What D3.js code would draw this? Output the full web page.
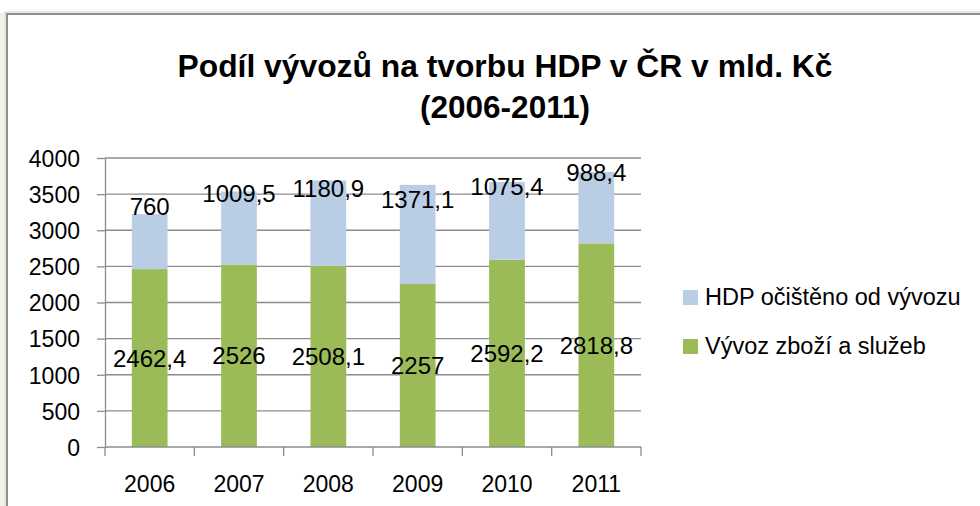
<!DOCTYPE html>
<html>
<head>
    <meta charset="utf-8">
    <title>stacked bar chart</title>
    <script type="text/javascript" src="https://cdn.jsdelivr.net/npm/d3@7/dist/d3.min.js"></script>
    <style type="text/css">
        body { margin: 0; background: #fff; }
        svg { display: block; font-family: "Liberation Sans", Arial, sans-serif; }
        .grid line { stroke: #8c8c8c; stroke-width: 1.3px; }
        .axis path, .axis line { stroke: #8c8c8c; stroke-width: 1.3px; }
        .axis text { font-family: "Liberation Sans", Arial, sans-serif; font-size: 23px; fill: #000; }
    </style>
</head>
<body>
    <svg id="chart" width="980" height="506"></svg>
</body>

<script type="text/javascript">

    let years = ["2006", "2007", "2008", "2009", "2010", "2011"];
    let vyvoz = [2462.4, 2526, 2508.1, 2257, 2592.2, 2818.8];
    let hdpBezVyvozu = [760, 1009.5, 1180.9, 1371.1, 1075.4, 988.4];
    let yTicks = [0, 500, 1000, 1500, 2000, 2500, 3000, 3500, 4000];
    let seriesNames = ["HDP očištěno od vývozu", "Vývoz zboží a služeb"];
    let colors = ["#b9cde5", "#9bbb59"];

    let svg = d3.select("#chart");

    // frame of the chart area
    svg.append("rect").attr("x", 0).attr("y", 13).attr("width", 4).attr("height", 506)
        .attr("fill", "#f2f2e8");
    svg.append("rect").attr("x", 7).attr("y", 14).attr("width", 990).attr("height", 520)
        .attr("fill", "#fff").attr("stroke", "#8e8e8e").attr("stroke-width", 2);
    svg.append("rect").attr("x", 5).attr("y", 12).attr("width", 990).attr("height", 520)
        .attr("fill", "none").attr("stroke", "#cfcfcf").attr("stroke-width", 1);

    // title
    svg.append("text").attr("x", 505).attr("y", 77)
        .attr("text-anchor", "middle").attr("font-weight", "bold").attr("font-size", 31)
        .attr("textLength", 655).attr("lengthAdjust", "spacingAndGlyphs")
        .text("Podíl vývozů na tvorbu HDP v ČR v mld. Kč");
    svg.append("text").attr("x", 505).attr("y", 118)
        .attr("text-anchor", "middle").attr("font-weight", "bold").attr("font-size", 31)
        .attr("textLength", 170).attr("lengthAdjust", "spacingAndGlyphs")
        .text("(2006-2011)");

    let plotLeft = 105, plotRight = 641, plotTop = 158, plotBottom = 447;

    let x = d3.scaleBand().domain(years).range([plotLeft, plotRight]).padding(0);
    let y = d3.scaleLinear().domain([0, 4000]).range([plotBottom, plotTop]);
    let barW = x.bandwidth() * 0.4;

    // gridlines
    svg.append("g").attr("class", "grid")
        .selectAll("line").data(yTicks.filter(d => d > 0)).enter().append("line")
        .attr("x1", plotLeft).attr("x2", plotRight)
        .attr("y1", d => y(d)).attr("y2", d => y(d));

    // y axis
    let yAxis = svg.append("g").attr("class", "axis")
        .attr("transform", "translate(" + plotLeft + ",0)")
        .call(d3.axisLeft(y).tickValues(yTicks).tickFormat(d3.format("d"))
            .tickSize(8).tickSizeOuter(0).tickPadding(17));
    yAxis.selectAll("text").attr("dy", "0.36em");

    // stacked data
    let rows = years.map((yr, i) => ({ year: yr, vyvoz: vyvoz[i], hdp: hdpBezVyvozu[i] }));
    let stack = d3.stack().keys(["vyvoz", "hdp"])(rows);

    let layers = svg.append("g").selectAll("g").data(stack).enter().append("g")
        .attr("fill", (d, i) => colors[1 - i]);
    layers.selectAll("rect").data(d => d).enter().append("rect")
        .attr("x", d => x(d.data.year) + (x.bandwidth() - barW) / 2)
        .attr("width", barW)
        .attr("y", d => y(d[1]))
        .attr("height", d => y(d[0]) - y(d[1]));

    // x axis
    let xa = svg.append("g").attr("class", "axis");
    xa.append("line").attr("x1", plotLeft).attr("x2", plotRight).attr("y1", plotBottom).attr("y2", plotBottom);
    xa.selectAll(".tk").data(years.concat(["end"])).enter().append("line")
        .attr("class", "tk")
        .attr("x1", (d, i) => plotLeft + i * x.step()).attr("x2", (d, i) => plotLeft + i * x.step())
        .attr("y1", plotBottom).attr("y2", plotBottom + 9);
    xa.selectAll("text").data(years).enter().append("text")
        .attr("x", d => x(d) + x.bandwidth() / 2).attr("y", 492)
        .attr("text-anchor", "middle").text(d => d);

    // data labels
    let fmt = v => String(v).replace(".", ",");
    let labels = svg.append("g").attr("font-size", 24).attr("text-anchor", "middle");
    labels.selectAll(".lv").data(stack[0]).enter().append("text")
        .attr("x", d => x(d.data.year) + x.bandwidth() / 2)
        .attr("y", d => (y(d[0]) + y(d[1])) / 2)
        .attr("dy", "0.36em")
        .text(d => fmt(d.data.vyvoz));
    labels.selectAll(".lh").data(stack[1]).enter().append("text")
        .attr("x", d => x(d.data.year) + x.bandwidth() / 2)
        .attr("y", d => (y(d[0]) + y(d[1])) / 2 - 35)
        .attr("dy", "0.36em")
        .text(d => fmt(d.data.hdp));

    // legend
    let legend = svg.append("g").selectAll("g").data(seriesNames).enter().append("g")
        .attr("transform", (d, i) => "translate(683," + (290 + i * 49) + ")");
    legend.append("rect").attr("width", 15).attr("height", 15).attr("fill", (d, i) => colors[i]);
    legend.append("text").attr("x", 22).attr("y", 15).attr("font-size", 23.5).text(d => d);

</script>

</html>
